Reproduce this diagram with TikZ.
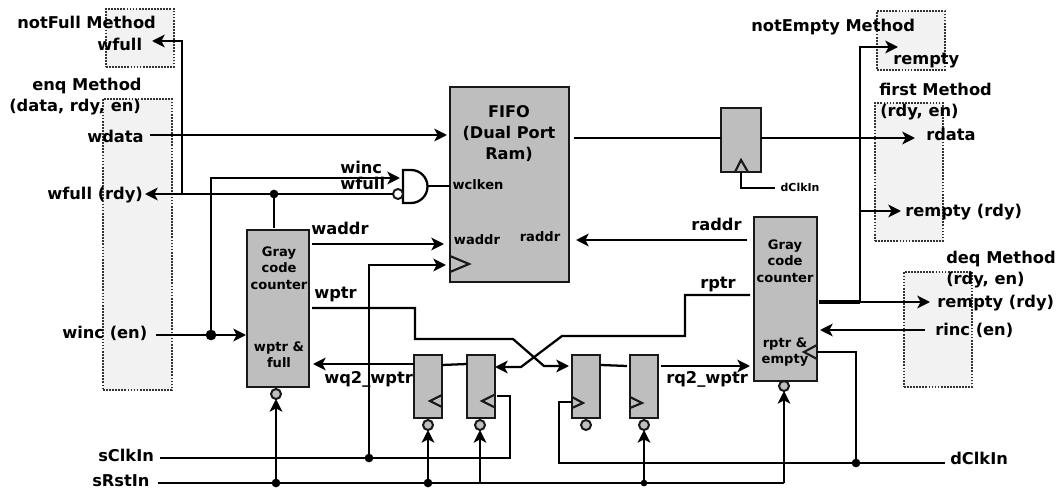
\documentclass[tikz,border=0pt]{standalone}
\usepackage{fontspec}
\setmainfont{DejaVu Sans}
\usetikzlibrary{arrows.meta}
\definecolor{blockgray}{RGB}{190,190,190}
\definecolor{methodgray}{RGB}{242,242,242}
\tikzset{
  wire/.style={line width=1.7pt,black},
  arrowwire/.style={wire,-{Stealth[length=9.5pt,width=9.5pt,inset=2.5pt]}},
  blockbox/.style={draw=black!90,line width=1.8pt,fill=blockgray,anchor=north west,inner sep=0pt,outer sep=0pt},
  methodbox/.style={draw=black!80,densely dotted,line width=1.3pt,fill=methodgray,anchor=north west,inner sep=0pt,outer sep=0pt},
  biglabel/.style={font=\fontsize{12.2}{15.5}\selectfont\bfseries,inner sep=0pt,anchor=west,text height=.75em,text depth=.2em,yshift=-1.3pt},
  smalllabel/.style={font=\fontsize{9.8}{12.3}\selectfont\bfseries,inner sep=0pt,align=center},
  bubble/.style={circle,draw=black!90,line width=1.5pt,fill=blockgray,minimum size=7.5pt,inner sep=0pt,outer sep=0pt},
  jdot/.style={circle,fill=black,minimum size=6.5pt,inner sep=0pt,outer sep=0pt},
  clocktri/.style={draw=black!90,line width=1.6pt}
}
\begin{document}
\begin{tikzpicture}[x=0.75pt,y=-0.75pt]
    \useasboundingbox (0,0) rectangle (1057,489);

    % Method boxes (behind everything)
    \node[methodbox,minimum width=68*0.75pt,minimum height=58*0.75pt] (notfullbox) at (106,9) {};
    \node[methodbox,minimum width=69*0.75pt,minimum height=291*0.75pt] (enqbox) at (103,99) {};
    \node[methodbox,minimum width=68*0.75pt,minimum height=59*0.75pt] (notemptybox) at (877,11) {};
    \node[methodbox,minimum width=68*0.75pt,minimum height=138*0.75pt] (firstbox) at (875,103) {};
    \node[methodbox,minimum width=68*0.75pt,minimum height=115*0.75pt] (deqbox) at (904,272) {};

    % Main blocks
    \node[blockbox,minimum width=119*0.75pt,minimum height=195*0.75pt] (fifo) at (450,87) {};
    \node[blockbox,minimum width=62*0.75pt,minimum height=157*0.75pt] (grayleft) at (247,230) {};
    \node[blockbox,minimum width=63*0.75pt,minimum height=164*0.75pt] (grayright) at (754,217) {};
    \node[blockbox,minimum width=40*0.75pt,minimum height=64*0.75pt] (outff) at (721,108) {};

    % Synchroniser flops with reset bubbles
    \foreach \ffname/\xpos/\bubx in {ffa/414/428,ffb/467/480,ffc/572/586,ffd/630/644}{
      \node[blockbox,minimum width=28*0.75pt,minimum height=63*0.75pt] (\ffname) at (\xpos,355) {};
      \node[bubble] (bub\ffname) at (\bubx,425) {};
    }
    \node[bubble] (bubleft) at (276,394) {};
    \node[bubble] (bubright) at (784,386) {};

    % Clock triangles
    \draw[clocktri] (450,256) -- (469,264) -- (450,272);
    \draw[clocktri] (442,395) -- (430,401) -- (442,407);
    \draw[clocktri] (494,395) -- (482,401) -- (494,407);
    \draw[clocktri] (572,397) -- (583,403) -- (572,408);
    \draw[clocktri] (630,397) -- (642,403) -- (630,408);
    \draw[clocktri] (817,345) -- (804,352) -- (817,359);
    \draw[clocktri] (735,172) -- (741,160) -- (748,172);

    % Nand gate on the write clock enable
    \draw[wire,fill=white] (403,170) -- (411,170) arc (-90:90:16.5) -- (403,203) -- cycle;
    \node[bubble,fill=white] (nandbub) at (398,194) {};
    \coordinate (nandout) at (427,186);
    \coordinate (wclkenpin) at (450,186);
    \draw[wire] (nandout) -- (wclkenpin);

    % Junction dots
    \node[jdot] (dotwfull) at (274,194) {};
    \node[jdot,minimum size=8pt] (dotwinc) at (211,335) {};
    \node[jdot] (dotsclk) at (369,458) {};
    \node[jdot] (dotdclk) at (856,463) {};
    \node[jdot] (dotrsta) at (276,483) {};
    \node[jdot] (dotrstb) at (428,483) {};
    \node[jdot,minimum size=5pt] (dotrstc) at (644,483) {};

    % Labels on the left
    \node[biglabel] (lblnotfull) at (17,23) {notFull Method};
    \node[biglabel] (lblwfullm) at (97,45) {wfull};
    \node[biglabel] (lblenq) at (32,85) {enq Method};
    \node[biglabel] (lblenqargs) at (9,106) {(data, rdy, en)};
    \node[biglabel] (lblwdata) at (87,137) {wdata};
    \node[biglabel] (lblwfullrdy) at (47,194) {wfull (rdy)};
    \node[biglabel] (lblwincen) at (62,333) {winc (en)};
    \node[biglabel] (lblsclk) at (98,456) {sClkIn};
    \node[biglabel] (lblsrst) at (92,481) {sRstIn};

    % Labels in the middle
    \node[biglabel] (lblwinc) at (340,168) {winc};
    \node[biglabel] (lblwfull) at (340,184) {wfull};
    \node[biglabel] (lblwaddr) at (311,229) {waddr};
    \node[biglabel] (lblwptr) at (314,293) {wptr};
    \node[biglabel] (lblwq) at (324,378) {wq2\_wptr};
    \node[biglabel] (lblrq) at (666,378) {rq2\_wptr};
    \node[biglabel] (lblraddr) at (691,225) {raddr};
    \node[biglabel] (lblrptr) at (700,283) {rptr};
    \node[biglabel,font=\fontsize{12.1}{16}\selectfont\bfseries,align=center,text height=,text depth=,anchor=center] (lblfifo) at (509,132) {FIFO\\(Dual Port\\Ram)};

    % Labels on the blocks
    \node[smalllabel] (lblwclken) at (478,185) {wclken};
    \node[smalllabel] (lblfwaddr) at (477,240) {waddr};
    \node[smalllabel] (lblfraddr) at (540,237) {raddr};
    \node[smalllabel] (lblgrayl) at (279,268) {Gray\\code\\counter};
    \node[smalllabel] (lblwfl) at (279,355) {wptr \&\\full};
    \node[smalllabel] (lblgrayr) at (785,261) {Gray\\code\\counter};
    \node[smalllabel] (lblrem) at (785,352) {rptr \&\\empty};
    \node[smalllabel,font=\fontsize{8.2}{10}\selectfont\bfseries] (lblclkout) at (800,187) {dClkIn};

    % Labels on the right
    \node[biglabel] (lblnotempty) at (751,26) {notEmpty Method};
    \node[biglabel] (lblrempty) at (893,59) {rempty};
    \node[biglabel] (lblfirst) at (879,90) {first Method};
    \node[biglabel] (lblfirstargs) at (880,111) {(rdy, en)};
    \node[biglabel] (lblrdata) at (926,135) {rdata};
    \node[biglabel] (lblremptyf) at (905,211) {rempty (rdy)};
    \node[biglabel] (lbldeq) at (946,258) {deq Method};
    \node[biglabel] (lbldeqargs) at (946,279) {(rdy, en)};
    \node[biglabel] (lblremptyd) at (937,302) {rempty (rdy)};
    \node[biglabel] (lblrinc) at (935,330) {rinc (en)};
    \node[biglabel] (lbldclk) at (950,459) {dClkIn};

    % Write side wires
    \coordinate (wfullup) at (182,194); \coordinate (wfullbend) at (182,41); \coordinate (wfulltip) at (152,41);
    \draw[arrowwire] (wfullup) -- (wfullbend) -- (wfulltip);
    \coordinate (wfullend) at (145,194);
    \draw[arrowwire] (nandbub) -- (wfullend);
    \coordinate (gltop) at (274,228);
    \draw[wire] (dotwfull) -- (gltop);
    \coordinate (wincbend) at (211,178); \coordinate (winctip) at (400,178);
    \draw[arrowwire] (dotwinc) -- (wincbend) -- (winctip);
    \coordinate (wdatafrom) at (150,135); \coordinate (wdatatip) at (447,135);
    \draw[arrowwire] (wdatafrom) -- (wdatatip);
    \coordinate (wincfrom) at (156,335); \coordinate (wincin) at (246,335);
    \draw[arrowwire] (wincfrom) -- (wincin);
    \coordinate (waddrfrom) at (312,244); \coordinate (waddrtip) at (444,244);
    \draw[arrowwire] (waddrfrom) -- (waddrtip);
    \coordinate (fifoclkbend) at (369,265); \coordinate (fifoclktip) at (446,265);
    \draw[arrowwire] (dotsclk) -- (fifoclkbend) -- (fifoclktip);

    % Clock and reset rails
    \coordinate (sclkfrom) at (160,458); \coordinate (sclkbend) at (510,458);
    \coordinate (sclkup) at (510,396); \coordinate (sclkend) at (497,396);
    \draw[wire] (sclkfrom) -- (sclkbend) -- (sclkup) -- (sclkend);
    \coordinate (srstfrom) at (158,483); \coordinate (srstbend) at (784,483);
    \draw[wire] (srstfrom) -- (srstbend);
    \coordinate (srstb) at (480,483);
    \draw[arrowwire] (dotrsta) -- (bubleft);
    \draw[arrowwire] (dotrstb) -- (bubffa);
    \draw[arrowwire] (srstb) -- (bubffb);
    \draw[arrowwire] (dotrstc) -- (bubffd);
    \draw[arrowwire] (srstbend) -- (bubright);
    \coordinate (dclkfrom) at (945,463); \coordinate (dclkbend) at (559,463);
    \coordinate (dclkup) at (559,402); \coordinate (dclkff) at (572,402);
    \draw[wire] (dclkfrom) -- (dclkbend) -- (dclkup) -- (dclkff);
    \coordinate (grclkbend) at (856,352); \coordinate (grclk) at (817,352);
    \draw[wire] (dotdclk) -- (grclkbend) -- (grclk);

    % Crossing pointers and synchronisers
    \coordinate (wptra) at (312,308); \coordinate (wptrb) at (415,308); \coordinate (wptrc) at (415,339);
    \coordinate (wptrd) at (513,339); \coordinate (wptre) at (544,366); \coordinate (wptrtip) at (569,366);
    \draw[arrowwire] (wptra) -- (wptrb) -- (wptrc) -- (wptrd) -- (wptre) -- (wptrtip);
    \coordinate (rptra) at (750,295); \coordinate (rptrb) at (685,295); \coordinate (rptrc) at (685,336);
    \coordinate (rptrd) at (562,336); \coordinate (rptre) at (521,367); \coordinate (rptrtip) at (495,367);
    \draw[arrowwire] (rptra) -- (rptrb) -- (rptrc) -- (rptrd) -- (rptre) -- (rptrtip);
    \coordinate (wqfrom) at (414,364); \coordinate (wqtip) at (313,364);
    \draw[arrowwire] (wqfrom) -- (wqtip);
    \coordinate (abfrom) at (442,365); \coordinate (abto) at (467,364);
    \draw[wire] (abfrom) -- (abto);
    \coordinate (cdfrom) at (601,365); \coordinate (cdto) at (627,366);
    \draw[wire] (cdfrom) -- (cdto);
    \coordinate (rqfrom) at (661,366); \coordinate (rqtip) at (750,366);
    \draw[arrowwire] (rqfrom) -- (rqtip);

    % Read side wires
    \coordinate (raddrfrom) at (747,240); \coordinate (raddrtip) at (576,240);
    \draw[arrowwire] (raddrfrom) -- (raddrtip);
    \coordinate (fifoout) at (574,138); \coordinate (outffin) at (721,138);
    \draw[wire] (fifoout) -- (outffin);
    \coordinate (outffout) at (761,138); \coordinate (rdatatip) at (915,138);
    \draw[arrowwire] (outffout) -- (rdatatip);
    \coordinate (ckpin) at (741,172); \coordinate (ckbend) at (741,188); \coordinate (ckend) at (775,188);
    \draw[wire] (ckpin) -- (ckbend) -- (ckend);
    \coordinate (busfrom) at (819,302); \coordinate (busjoin) at (860,302); \coordinate (bustop) at (860,47);
    \coordinate (remptytip) at (898,47); \coordinate (busmid) at (860,211); \coordinate (busmidtip) at (901,211);
    \coordinate (remptydtip) at (930,302);
    \draw[arrowwire] (busjoin) -- (bustop) -- (remptytip);
    \draw[arrowwire] (busmid) -- (busmidtip);
    \draw[arrowwire] (busfrom) -- (remptydtip);
    \draw[wire,line width=2.3pt] (busfrom) -- (busjoin);
    \coordinate (rincfrom) at (925,330); \coordinate (rinctip) at (820,330);
    \draw[arrowwire] (rincfrom) -- (rinctip);
\end{tikzpicture}
\end{document}
